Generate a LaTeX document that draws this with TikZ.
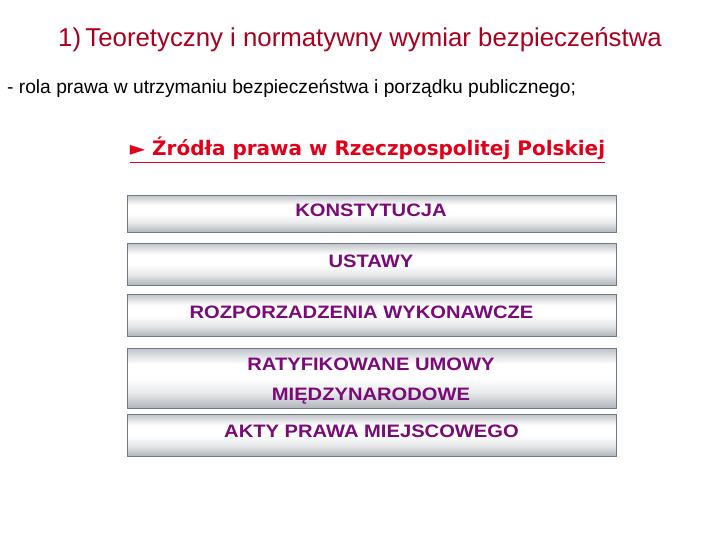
\documentclass[tikz,border=0pt]{standalone}
\usepackage{fontspec}
\setmainfont{Liberation Sans}
\newfontfamily\headfont{DejaVu Sans}
\definecolor{titlered}{HTML}{A8001E}
\definecolor{headred}{HTML}{E0001A}
\definecolor{boxtext}{HTML}{7A0A78}
\definecolor{boxedge}{HTML}{6E7A86}
\definecolor{boxdark}{HTML}{5F6B77}
\pgfdeclareverticalshading{barshade}{100bp}{%
  color(0bp)=(boxdark);
  color(12bp)=(boxdark!85!white);
  color(38bp)=(boxdark!15!white);
  color(50bp)=(white);
  color(62bp)=(white);
  color(85bp)=(boxdark!70!white);
  color(100bp)=(boxdark)}
\newcommand{\wide}[1]{\scalebox{1.12}[1]{#1}}
\tikzset{
  bar/.style={draw=boxedge, line width=0.6pt, shading=barshade, minimum width=489pt, anchor=north west, inner sep=0pt},
  bartext/.style={text=boxtext, font=\bfseries\fontsize{18}{30}\selectfont, align=center, inner sep=0pt, anchor=base},
}
\begin{document}
\begin{tikzpicture}[x=1pt,y=-1pt]
\useasboundingbox (0,0) rectangle (720,540);
\node[anchor=base, text=titlered, font=\fontsize{25.8}{30}\selectfont, inner sep=0pt] (title) at (360,47) {1)\,Teoretyczny i normatywny wymiar bezpieczeństwa};
\node[anchor=base west, font=\fontsize{19.2}{23}\selectfont, inner sep=0pt] (sub) at (7,94) {- rola prawa w utrzymaniu bezpieczeństwa i porządku publicznego;};
\node[anchor=base, text=headred, font=\headfont\bfseries\fontsize{20}{24}\selectfont, inner sep=0pt] (head) at (367.5,156) {\underline{►~Źródła prawa w Rzeczpospolitej Polskiej}};
\node[bar, minimum height=37pt] (b1) at (127,195) {};
\node[bar, minimum height=42pt] (b2) at (127,243) {};
\node[bar, minimum height=42pt] (b3) at (127,294) {};
\node[bar, minimum height=60pt] (b4) at (127,348) {};
\node[bar, minimum height=42pt] (b5) at (127,414) {};
\node[bartext] (t1) at (371,217) {\wide{KONSTYTUCJA}};
\node[bartext] (t2) at (371,267) {\wide{USTAWY}};
\node[bartext] (t3) at (361.5,318) {\wide{ROZPORZADZENIA WYKONAWCZE}};
\node[bartext] (t4) at (371,400) {\wide{RATYFIKOWANE UMOWY}\\\wide{MIĘDZYNARODOWE}};
\node[bartext] (t5) at (371.5,437) {\wide{AKTY PRAWA MIEJSCOWEGO}};
\end{tikzpicture}
\end{document}
